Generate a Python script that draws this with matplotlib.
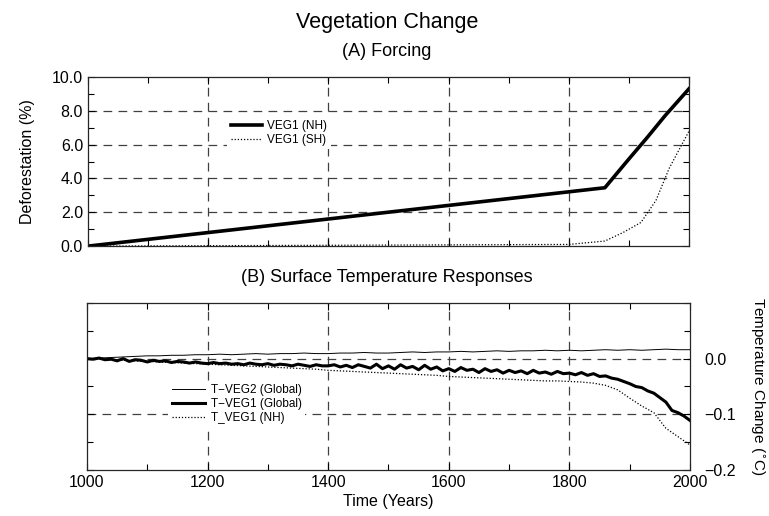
import matplotlib.pyplot as plt
import numpy as np
from matplotlib.ticker import MultipleLocator

plt.rcParams['font.family'] = ['Liberation Sans', 'DejaVu Sans']

# (A) forcing, deforestation in percent
nh_years = [1000, 1860, 1900, 1930, 1960, 2000]
nh_defor = [0.0, 3.45, 5.15, 6.4, 7.7, 9.3]
sh_years = [1000, 1400, 1800, 1860, 1890, 1920, 1945, 1967, 2000]
sh_defor = [0.0, 0.05, 0.1, 0.3, 0.8, 1.4, 2.7, 4.6, 6.8]

# (B) temperature responses
yrs10 = np.arange(1000, 2001, 10)
t_veg1_glob = [
    0.000, -0.001, 0.001, -0.002, -0.001, -0.004, 0.000, -0.005, -0.002, -0.003,
    -0.006, -0.003, -0.005, -0.004, -0.007, -0.005, -0.006, -0.008, -0.006, -0.008,
    -0.009, -0.007, -0.009, -0.008, -0.010, -0.009, -0.011, -0.008, -0.010, -0.011,
    -0.009, -0.012, -0.010, -0.011, -0.013, -0.010, -0.012, -0.014, -0.011, -0.013,
    -0.013, -0.011, -0.015, -0.012, -0.016, -0.011, -0.014, -0.017, -0.010, -0.018,
    -0.013, -0.019, -0.011, -0.017, -0.014, -0.020, -0.012, -0.019, -0.015, -0.022,
    -0.018, -0.023, -0.016, -0.021, -0.019, -0.025, -0.018, -0.023, -0.020, -0.026,
    -0.021, -0.025, -0.022, -0.027, -0.021, -0.026, -0.024, -0.028, -0.023, -0.027,
    -0.026, -0.029, -0.025, -0.030, -0.027, -0.032, -0.031, -0.035, -0.037, -0.041,
    -0.045, -0.050, -0.052, -0.058, -0.062, -0.070, -0.078, -0.093, -0.097, -0.103,
    -0.111]

yrs20 = np.arange(1000, 2001, 20)
t_veg2_glob = [
    0.000, 0.001, 0.002, 0.003, 0.004, 0.005, 0.005, 0.006, 0.006, 0.007,
    0.007, 0.008, 0.007, 0.008, 0.009, 0.008, 0.009, 0.009, 0.010, 0.009,
    0.009, 0.010, 0.010, 0.011, 0.010, 0.010, 0.011, 0.012, 0.011, 0.012,
    0.012, 0.013, 0.012, 0.013, 0.014, 0.013, 0.014, 0.014, 0.015, 0.014,
    0.015, 0.014, 0.015, 0.016, 0.015, 0.016, 0.015, 0.016, 0.017, 0.016,
    0.016]
t_veg1_nh = [
    0.000, -0.001, -0.002, -0.003, -0.004, -0.005, -0.006, -0.007, -0.008, -0.009,
    -0.010, -0.011, -0.012, -0.013, -0.014, -0.015, -0.016, -0.017, -0.018, -0.019,
    -0.021, -0.022, -0.023, -0.024, -0.025, -0.026, -0.027, -0.028, -0.029, -0.030,
    -0.032, -0.033, -0.034, -0.035, -0.036, -0.037, -0.038, -0.039, -0.040, -0.040,
    -0.041, -0.042, -0.044, -0.048, -0.056, -0.071, -0.085, -0.097, -0.125, -0.140,
    -0.155]

grid_kw = dict(color='0.25', lw=0.9, dashes=(7, 5))

fig = plt.figure(figsize=(7.69, 5.16), dpi=100)
ax1 = fig.add_axes([0.1144, 0.523, 0.7816, 0.328])
ax2 = fig.add_axes([0.1131, 0.089, 0.7842, 0.324])

fig.text(0.503, 0.957, 'Vegetation Change', ha='center', va='center', fontsize=15.5)
fig.text(0.503, 0.900, '(A) Forcing', ha='center', va='center', fontsize=13)
fig.text(0.503, 0.463, '(B) Surface Temperature Responses', ha='center', va='center', fontsize=13)

# top panel
ax1.plot(nh_years, nh_defor, color='black', lw=2.6, label='VEG1 (NH)')
ax1.plot(sh_years, sh_defor, color='black', lw=0.9, ls=(0, (1, 1.5)), label='VEG1 (SH)')
ax1.set_xlim(1000, 2000)
ax1.set_ylim(0, 10)
ax1.yaxis.set_major_locator(MultipleLocator(2))
ax1.yaxis.set_minor_locator(MultipleLocator(1))
ax1.xaxis.set_major_locator(MultipleLocator(200))
ax1.xaxis.set_minor_locator(MultipleLocator(100))
ax1.set_yticks([0, 2, 4, 6, 8, 10])
ax1.set_yticklabels(['0.0', '2.0', '4.0', '6.0', '8.0', '10.0'])
ax1.tick_params(labelbottom=False)
for g in [2, 4, 6, 8]:
    ax1.axhline(g, zorder=0, **grid_kw)
for g in [1200, 1400, 1600, 1800]:
    ax1.axvline(g, zorder=0, **grid_kw)
ax1.set_ylabel('Deforestation (%)', fontsize=11.5, labelpad=12)
leg1 = ax1.legend(loc='upper left', bbox_to_anchor=(0.222, 0.80), fontsize=8.5,
                  handlelength=2.6, frameon=True, fancybox=False, borderpad=0.3,
                  labelspacing=0.15, handletextpad=0.5)
leg1.get_frame().set_edgecolor('none')
leg1.get_frame().set_alpha(1)

# bottom panel
ax2.plot(yrs20, t_veg2_glob, color='black', lw=0.7, label='T\u2212VEG2 (Global)')
ax2.plot(yrs10, t_veg1_glob, color='black', lw=2.2, label='T\u2212VEG1 (Global)')
ax2.plot(yrs20, t_veg1_nh, color='black', lw=0.9, ls=(0, (1, 1.5)), label='T_VEG1 (NH)')
ax2.set_xlim(1000, 2000)
ax2.set_ylim(-0.2, 0.1)
ax2.xaxis.set_major_locator(MultipleLocator(200))
ax2.xaxis.set_minor_locator(MultipleLocator(100))
ax2.yaxis.set_minor_locator(MultipleLocator(0.05))
for g in [0.0, -0.1]:
    ax2.axhline(g, zorder=0, **grid_kw)
for g in [1200, 1400, 1600, 1800]:
    ax2.axvline(g, zorder=0, **grid_kw)
ax2.set_yticks([-0.2, -0.1, 0.0])
ax2.set_yticklabels(['\u22120.2', '\u22120.1', '0.0'])
ax2.yaxis.set_label_position('right')
ax2.set_ylabel('Temperature Change ($^{\\circ}$C)', fontsize=11, rotation=270, labelpad=22)
ax2.set_xlabel('Time (Years)', fontsize=11.5, labelpad=3)
leg2 = ax2.legend(loc='upper left', bbox_to_anchor=(0.125, 0.57), fontsize=8.5,
                  handlelength=2.8, frameon=True, fancybox=False, borderpad=0.3,
                  labelspacing=0.15, handletextpad=0.5)
leg2.get_frame().set_edgecolor('none')
leg2.get_frame().set_alpha(1)

for ax in (ax1, ax2):
    ax.tick_params(which='both', direction='in', top=True, right=True, left=True,
                   labelsize=11.5, width=0.8)
    ax.tick_params(which='major', length=5)
    ax.tick_params(which='minor', length=4)
    for s in ax.spines.values():
        s.set_linewidth(0.9)
        s.set_color('0.15')
ax2.tick_params(axis='y', labelleft=False, labelright=True, pad=10)

fig.savefig('out.png', dpi=100)
